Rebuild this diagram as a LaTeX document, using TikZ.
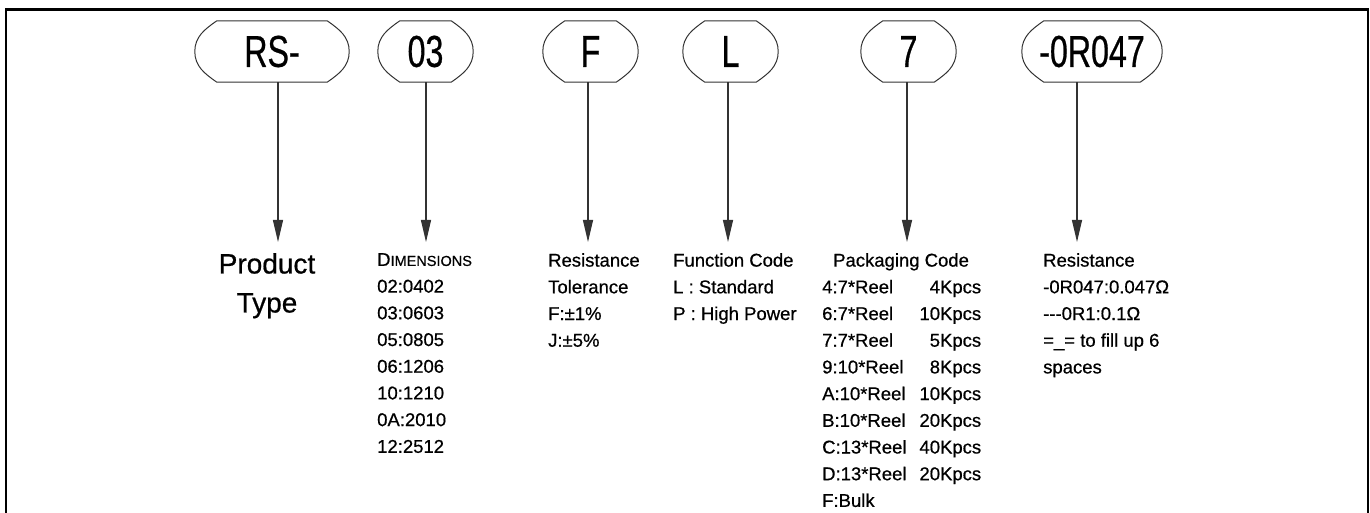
\documentclass[tikz,border=0pt]{standalone}
\usepackage{fontspec}
\setmainfont{Liberation Sans}
\newfontfamily\narrowfont[FakeStretch=0.72,FakeBold=0.6]{Liberation Sans}
\newfontfamily\descfamily[FakeBold=0.6]{Liberation Sans}
\usetikzlibrary{arrows.meta,calc}
\newcommand{\descfont}{\descfamily\fontsize{18.5}{26.7}\selectfont}
\newcommand{\codeoutline}[1]{%
	\draw[boxline] ([xshift=22pt]#1.north west) -- ([xshift=-22pt]#1.north east)
		to[out=-35,in=90] (#1.east) to[out=-90,in=35] ([xshift=-22pt]#1.south east)
		-- ([xshift=22pt]#1.south west) to[out=145,in=-90] (#1.west)
		to[out=90,in=-145] ([xshift=22pt]#1.north west) -- cycle;}

\begin{document}
\begin{tikzpicture}[x=1pt, y=1pt,
		codebox/.style={minimum width=95pt, minimum height=61pt, inner sep=0pt, font=\narrowfont\fontsize{44.7}{50}\selectfont},
		boxline/.style={line width=1pt, draw=black!80},
		desc/.style={inner sep=0pt, anchor=north west, align=left, font=\descfont},
		arr/.style={-{Triangle[length=22pt,width=10pt]}, line width=1.2pt, draw=black!80}
		]
		\useasboundingbox (0,0) rectangle (1370,512);
		\draw[line width=2.5pt] (6,-5) -- (6,502.5) -- (1368,502.5) -- (1368,-5);

		% code boxes
		\node[codebox, minimum width=154pt] (RS) at (272,460.5) {RS-};
		\node[codebox] (D) at (425.5,460.5) {03};
		\node[codebox] (T) at (590.5,460.5) {F};
		\node[codebox] (FC) at (730.5,460.5) {L};
		\node[codebox] (PC) at (908.5,460.5) {7};
		\node[codebox, minimum width=140pt] (R) at (1092,460.5) {-0R047};
		\foreach \n in {RS,D,T,FC,PC,R} {\codeoutline{\n}}

		% arrow tips
		\coordinate (tRS) at (278,270);
		\coordinate (tD) at (426,270);
		\coordinate (tT) at (588,270);
		\coordinate (tFC) at (728,270);
		\coordinate (tPC) at (907,270);
		\coordinate (tR) at (1077,270);

		% descriptions
		\node[inner sep=0pt, anchor=north, align=center, font=\descfamily\fontsize{28}{39}\selectfont] (RSd) at (267,259) {Product\\Type};
		\node[desc] (Dd) at (377,259) {D{\fontsize{14.5}{26.7}\selectfont IMENSIONS}\\02:0402\\03:0603\\05:0805\\06:1206\\10:1210\\0A:2010\\12:2512};
		\node[desc] (Td) at (548,259) {Resistance\\Tolerance\\F:±1\%\\J:±5\%};
		\node[desc] (FCd) at (673,259) {Function Code\\L : Standard\\P : High Power};
		\node[desc] (PCd) at (822,259) {\hspace{11pt}Packaging Code\\
			\makebox[159pt]{4:7*Reel\hfill 4Kpcs}\\
			\makebox[159pt]{6:7*Reel\hfill 10Kpcs}\\
			\makebox[159pt]{7:7*Reel\hfill 5Kpcs}\\
			\makebox[159pt]{9:10*Reel\hfill 8Kpcs}\\
			\makebox[159pt]{A:10*Reel\hfill 10Kpcs}\\
			\makebox[159pt]{B:10*Reel\hfill 20Kpcs}\\
			\makebox[159pt]{C:13*Reel\hfill 40Kpcs}\\
			\makebox[159pt]{D:13*Reel\hfill 20Kpcs}\\
			F:Bulk};
		\node[desc] (Rd) at (1043,259) {Resistance\\-0R047:0.047Ω\\-{}-{}-0R1:0.1Ω\\=\_= to fill up 6\\spaces};

		\draw[arr] (RS.south -| tRS) -- (tRS);
		\draw[arr] (D.south -| tD) -- (tD);
		\draw[arr] (T.south -| tT) -- (tT);
		\draw[arr] (FC.south -| tFC) -- (tFC);
		\draw[arr] (PC.south -| tPC) -- (tPC);
		\draw[arr] (R.south -| tR) -- (tR);
	\end{tikzpicture}
\end{document}
